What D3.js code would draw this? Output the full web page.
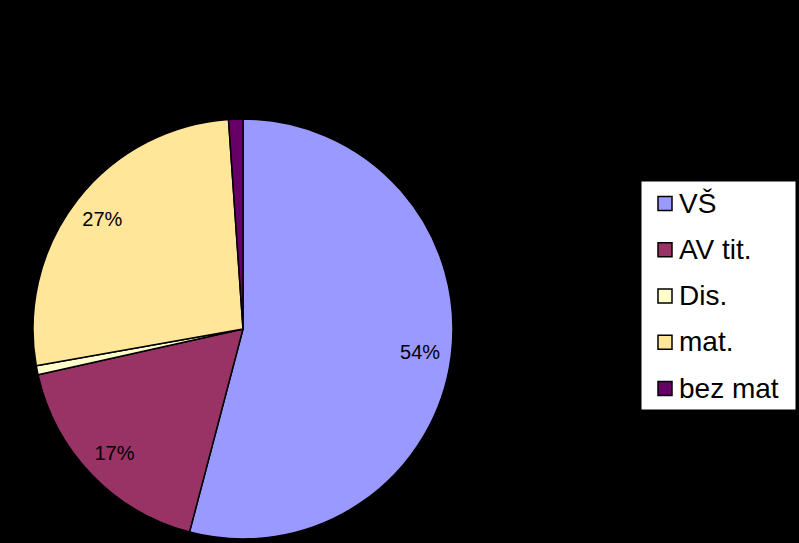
<!DOCTYPE html>
<html>
<head>
<meta charset="utf-8">
<script src="https://cdn.jsdelivr.net/npm/d3@7"></script>
<style>
  html, body { margin: 0; padding: 0; background: #000; }
  svg { display: block; }
</style>
</head>
<body>
<svg id="chart" width="799" height="543"></svg>
<script>
// data
var categories = ["VŠ", "AV tit.", "Dis.", "mat.", "bez mat"];
var shares = [54.1, 17.4, 0.7, 26.7, 1.1];
var colors = ["#9999ff", "#993366", "#ffffcc", "#ffe699", "#660066"];

var main = function() {
    var svg = d3.select("#chart");
    var cx = 243, cy = 329, radius = 210;

    var pie = d3.pie().sort(null).value(function(d) { return d; });
    var arcs = pie(shares);

    var arc = d3.arc().innerRadius(0).outerRadius(radius);
    var labelArc = d3.arc().innerRadius(radius * 0.85).outerRadius(radius * 0.85);

    var total = d3.sum(shares);

    var g = svg.append("g")
        .attr("transform", "translate(" + cx + "," + cy + ")");

    g.selectAll("path")
        .data(arcs)
      .enter().append("path")
        .attr("d", arc)
        .attr("fill", function(d, i) { return colors[i]; })
        .attr("stroke", "#000")
        .attr("stroke-width", 1.5)
        .attr("stroke-linejoin", "round");

    // only the bigger slices carry a label
    g.selectAll("text")
        .data(arcs.filter(function(d) { return d.value / total >= 0.02; }))
      .enter().append("text")
        .attr("transform", function(d) { return "translate(" + labelArc.centroid(d) + ")"; })
        .attr("text-anchor", "middle")
        .attr("dy", "0.35em")
        .attr("font-family", "Liberation Sans, Arial, sans-serif")
        .attr("font-size", 20)
        .attr("fill", "#000")
        .text(function(d) { return Math.round(d.value / total * 100) + "%"; });

    // legend
    var legend = svg.append("g").attr("transform", "translate(641,181)");

    legend.append("rect")
        .attr("width", 155)
        .attr("height", 229)
        .attr("fill", "#fff")
        .attr("stroke", "#000")
        .attr("stroke-width", 1);

    var rowY = d3.scalePoint()
        .domain(categories)
        .range([22.5, 207.5]);

    var item = legend.selectAll("g.item")
        .data(categories)
      .enter().append("g")
        .attr("class", "item")
        .attr("transform", function(d) { return "translate(0," + rowY(d) + ")"; });

    item.append("rect")
        .attr("x", 17)
        .attr("y", -7)
        .attr("width", 14)
        .attr("height", 14)
        .attr("fill", function(d, i) { return colors[i]; })
        .attr("stroke", "#000")
        .attr("stroke-width", 1.5);

    item.append("text")
        .attr("x", 38)
        .attr("y", 9)
        .attr("font-family", "Liberation Sans, Arial, sans-serif")
        .attr("font-size", 28)
        .attr("fill", "#000")
        .text(function(d) { return d; });
};

main();
</script>
</body>
</html>
